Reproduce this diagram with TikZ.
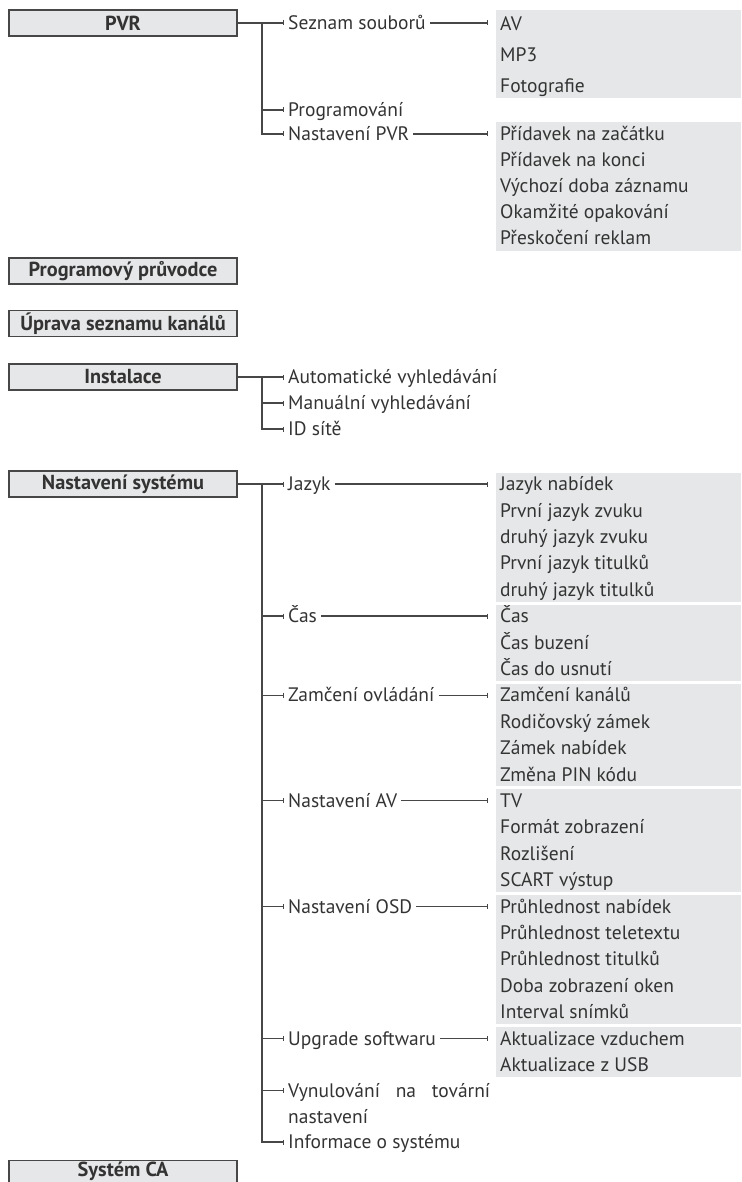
\documentclass[tikz,border=0pt]{standalone}
\usepackage{fontspec}
\setmainfont{PT Sans}
\usetikzlibrary{arrows.meta}
\definecolor{ln}{HTML}{474747}
\definecolor{tx}{HTML}{333333}
\definecolor{gf}{HTML}{E6E7E8}
\begin{document}
\begin{tikzpicture}[x=1pt,y=-1pt,
  mainbox/.style={draw=ln, line width=1.2pt, fill=gf, minimum width=228pt, minimum height=26pt, inner sep=0pt, font=\fontsize{20.3}{24}\selectfont\bfseries, text=tx},
  grp/.style={fill=gf, inner sep=0pt, anchor=north west, minimum width=245pt},
  itm/.style={anchor=west, inner sep=0pt, inner xsep=4pt, text height=13.5pt, text depth=0pt, font=\fontsize{19.5}{26}\selectfont, text=tx},
  con/.style={draw=ln, line width=1.1pt},
  br/.style={con, -{Bar[width=5pt,line width=1pt]}},
  br2/.style={br, shorten >=8pt},
]
\useasboundingbox (0,0) rectangle (741,1182);

% ---------------- PVR ----------------
\node[mainbox] (pvr) at (123,23) {PVR};
\coordinate (tp) at (262,23);
\node[itm] (seznam) at (284,23) {Seznam souborů};
\node[itm] (prog) at (284,110) {Programování};
\node[itm] (npvr) at (284,134) {Nastavení PVR};
\draw[con] (pvr.east) -- (tp);
\draw[br] (tp) -- (seznam.west);
\draw[br] (tp |- prog) -- (prog.west);
\draw[br] (tp) |- (npvr.west);

\node[grp, minimum height=88pt] (gS) at (496,10) {};
\node[itm] (av) at (496,24) {AV};
\node[itm] (mp3) at (496,55) {MP3};
\node[itm] (foto) at (496,86) {Fotografie};
\draw[br2] (seznam.east) -- (seznam.east -| gS.west);

\node[grp, minimum height=129pt] (gP) at (496,122) {};
\node[itm] (p1) at (496,134) {Přídavek na začátku};
\node[itm] (p2) at (496,160) {Přídavek na konci};
\node[itm] (p3) at (496,186) {Výchozí doba záznamu};
\node[itm] (p4) at (496,212) {Okamžité opakování};
\node[itm] (p5) at (496,238) {Přeskočení reklam};
\draw[br2] (npvr.east) -- (npvr.east -| gP.west);

% ---------------- single boxes ----------------
\node[mainbox] (epg) at (123,271) {Programový průvodce};
\node[mainbox] (edit) at (123,323.5) {Úprava seznamu kanálů};

% ---------------- Instalace ----------------
\node[mainbox] (inst) at (123,377) {Instalace};
\coordinate (ti) at (262,377);
\node[itm] (i1) at (284,377) {Automatické vyhledávání};
\node[itm] (i2) at (284,403) {Manuální vyhledávání};
\node[itm] (i3) at (284,429) {ID sítě};
\draw[con] (inst.east) -- (ti);
\draw[br] (ti) -- (i1.west);
\draw[br] (ti |- i2) -- (i2.west);
\draw[br] (ti) |- (i3.west);

% ---------------- Nastavení systému ----------------
\node[mainbox] (sys) at (123,484) {Nastavení systému};
\coordinate (ts) at (262,484);
\node[itm] (jaz) at (284,484) {Jazyk};
\node[itm] (cas) at (284,616) {Čas};
\node[itm] (zam) at (284,695.2) {Zamčení ovládání};
\node[itm] (nav) at (284,800.8) {Nastavení AV};
\node[itm] (osd) at (284,906.4) {Nastavení OSD};
\node[itm] (upg) at (284,1038.4) {Upgrade softwaru};
\node[itm] (vyn) at (284,1090.6) {\makebox[202pt][s]{Vynulování na tovární}};
\node[itm] (vyn2) at (284,1116.4) {nastavení};
\node[itm] (info) at (284,1142) {Informace o systému};
\draw[con] (sys.east) -- (ts);
\draw[br] (ts) -- (jaz.west);
\foreach \n in {cas,zam,nav,osd,upg,vyn} \draw[br] (ts |- \n) -- (\n.west);
\draw[br] (ts) |- (info.west);

\node[grp, minimum height=129pt] (gJ) at (496,472.3) {};
\node[itm] (j1) at (496,484) {Jazyk nabídek};
\node[itm] (j2) at (496,510.4) {První jazyk zvuku};
\node[itm] (j3) at (496,536.8) {druhý jazyk zvuku};
\node[itm] (j4) at (496,563.2) {První jazyk titulků};
\node[itm] (j5) at (496,589.6) {druhý jazyk titulků};
\draw[br2] (jaz.east) -- (jaz.east -| gJ.west);

\node[grp, minimum height=76.2pt] (gC) at (496,604.3) {};
\node[itm] (c1) at (496,616) {Čas};
\node[itm] (c2) at (496,642.4) {Čas buzení};
\node[itm] (c3) at (496,668.8) {Čas do usnutí};
\draw[br2] (cas.east) -- (cas.east -| gC.west);

\node[grp, minimum height=102.6pt] (gZ) at (496,683.5) {};
\node[itm] (z1) at (496,695.2) {Zamčení kanálů};
\node[itm] (z2) at (496,721.6) {Rodičovský zámek};
\node[itm] (z3) at (496,748) {Zámek nabídek};
\node[itm] (z4) at (496,774.4) {Změna PIN kódu};
\draw[br2] (zam.east) -- (zam.east -| gZ.west);

\node[grp, minimum height=102.6pt] (gA) at (496,789.1) {};
\node[itm] (a1) at (496,800.8) {TV};
\node[itm] (a2) at (496,827.2) {Formát zobrazení};
\node[itm] (a3) at (496,853.6) {Rozlišení};
\node[itm] (a4) at (496,880) {SCART výstup};
\draw[br2] (nav.east) -- (nav.east -| gA.west);

\node[grp, minimum height=129pt] (gO) at (496,894.7) {};
\node[itm] (o1) at (496,906.4) {Průhlednost nabídek};
\node[itm] (o2) at (496,932.8) {Průhlednost teletextu};
\node[itm] (o3) at (496,959.2) {Průhlednost titulků};
\node[itm] (o4) at (496,985.6) {Doba zobrazení oken};
\node[itm] (o5) at (496,1012) {Interval snímků};
\draw[br2] (osd.east) -- (osd.east -| gO.west);

\node[grp, minimum height=49.8pt] (gU) at (496,1026.7) {};
\node[itm] (u1) at (496,1038.4) {Aktualizace vzduchem};
\node[itm] (u2) at (496,1064.8) {Aktualizace z USB};
\draw[br2] (upg.east) -- (upg.east -| gU.west);

% ---------------- Systém CA ----------------
\node[mainbox, anchor=north, minimum height=0pt, inner ysep=2.5pt, text height=13.5pt, text depth=6pt] (ca) at (123,1160) {Systém CA};
\end{tikzpicture}
\end{document}
